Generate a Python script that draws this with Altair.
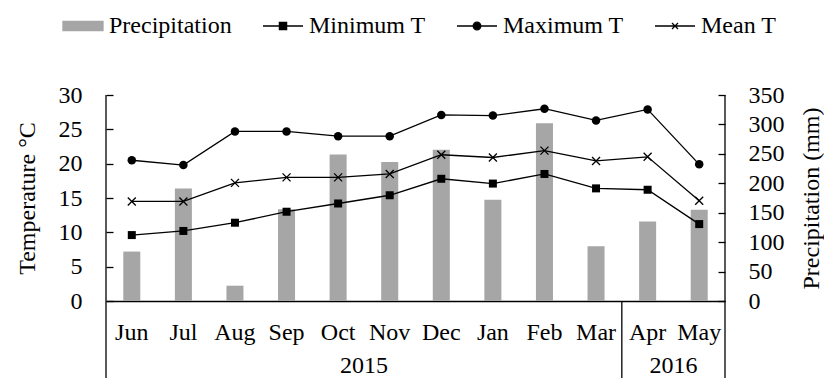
import altair as alt
import pandas as pd

# ---- data ----
months = ["Jun", "Jul", "Aug", "Sep", "Oct", "Nov", "Dec", "Jan", "Feb", "Mar", "Apr", "May"]
precip = [84, 191, 26, 156, 249, 236, 257, 172, 302, 93, 135, 155]
min_t = [9.6, 10.2, 11.4, 13.0, 14.2, 15.4, 17.8, 17.1, 18.5, 16.4, 16.2, 11.2]
max_t = [20.5, 19.8, 24.7, 24.7, 24.0, 24.0, 27.1, 27.0, 28.0, 26.3, 27.9, 19.9]
mean_t = [14.5, 14.5, 17.2, 18.0, 18.0, 18.5, 21.3, 20.9, 21.9, 20.4, 21.0, 14.6]
series_names = ["Precipitation", "Minimum T", "Maximum T", "Mean T"]
years = ["2015", "2016"]
year_start_month = ["Jun", "Apr"]
year_label_month = ["Nov", "May"]   # band whose left edge is the centre of the year span

FONT = "'Times New Roman', 'Liberation Serif', 'DejaVu Serif', serif"
LW = 1.3

bars_df = pd.DataFrame({"month": months, "precip": precip})
temp_df = pd.concat([
    pd.DataFrame({"month": months, "value": vals, "series": name})
    for name, vals in zip(series_names[1:], [min_t, max_t, mean_t])
], ignore_index=True)
legend_df = pd.DataFrame({"series": series_names})
year_df = pd.DataFrame({"month": year_label_month, "label": years})

x_axis = alt.Axis(title=None, domain=True, domainColor="black", domainWidth=LW,
                  ticks=False, tickSize=0, labelPadding=31, labelBaseline="middle",
                  labelAngle=0, labelFont=FONT, labelFontSize=24, labelColor="black", grid=False)
x_scale = alt.Scale(domain=months, paddingInner=0, paddingOuter=0)


def X(**kw):
    return alt.X("month:N", sort=months, scale=x_scale, axis=x_axis, **kw)


bars = alt.Chart(bars_df).mark_bar(color="#a6a6a6", width={"band": 0.33}).encode(
    x=X(),
    y=alt.Y("precip:Q", scale=alt.Scale(domain=[0, 350], nice=False),
            axis=alt.Axis(orient="right", values=list(range(0, 351, 50)), offset=-7,
                          tickSize=7, tickColor="black", tickWidth=LW, domain=False,
                          grid=False, labelPadding=23, labelFont=FONT, labelFontSize=24,
                          labelColor="black",
                          title="Precipitation (mm)", titleFont=FONT, titleFontSize=24,
                          titleFontWeight="normal",
                          titleColor="black", titleAngle=270, titleX=93, titleY=103,
                          titleAlign="center", titleBaseline="middle")),
)

y_temp = alt.Y("value:Q", scale=alt.Scale(domain=[0, 30], nice=False),
               axis=alt.Axis(orient="left", values=list(range(0, 31, 5)), offset=-7,
                             tickSize=7, tickColor="black", tickWidth=LW, domain=False,
                             grid=False, labelPadding=24, labelFont=FONT, labelFontSize=24,
                             labelColor="black",
                             title="Temperature °C", titleFont=FONT, titleFontSize=24,
                             titleFontWeight="normal",
                             titleColor="black", titleAngle=270, titleX=-86, titleY=103,
                             titleAlign="center", titleBaseline="middle"))

lines = alt.Chart(temp_df).mark_line(color="black", strokeWidth=LW).encode(
    x=X(), y=y_temp, detail="series:N")

pts_min = alt.Chart(temp_df).transform_filter(alt.datum.series == "Minimum T").mark_point(
    shape="square", filled=True, size=64, color="black", opacity=1).encode(x=X(), y=y_temp)
pts_max = alt.Chart(temp_df).transform_filter(alt.datum.series == "Maximum T").mark_point(
    shape="circle", filled=True, size=72, color="black", opacity=1).encode(x=X(), y=y_temp)
pts_mean = alt.Chart(temp_df).transform_filter(alt.datum.series == "Mean T").mark_point(
    shape="M-1,-1L1,1M-1,1L1,-1", filled=False, size=64, color="black", strokeWidth=LW,
    opacity=1).encode(x=X(), y=y_temp)

# vertical frame lines
rule_df_left = pd.DataFrame({"month": [months[0]]})
rule_df_sep = pd.DataFrame({"month": [year_start_month[1]]})
rule_df_right = pd.DataFrame({"month": [months[-1]]})
rule_left = alt.Chart(rule_df_left).mark_rule(color="black", strokeWidth=LW).encode(
    x=X(bandPosition=0), y=alt.value(0), y2=alt.value(290))
rule_sep = alt.Chart(rule_df_sep).mark_rule(color="black", strokeWidth=LW).encode(
    x=X(bandPosition=0), y=alt.value(206), y2=alt.value(290))
rule_right = alt.Chart(rule_df_right).mark_rule(color="black", strokeWidth=LW).encode(
    x=X(bandPosition=1), y=alt.value(0), y2=alt.value(290))

year_text = alt.Chart(year_df).mark_text(font=FONT, fontSize=24, color="black",
                                         baseline="middle", align="center").encode(
    x=X(bandPosition=0), y=alt.value(271), text="label:N")

# legend
legend_paths = [
    "M-1,-0.23H1V0.23H-1Z",
    "M-1,0H1M-0.18,-0.18H0.18V0.18H-0.18Z",
    "M-1,0H1M0.19,0A0.19,0.19,0,1,1,-0.19,0A0.19,0.19,0,1,1,0.19,0Z",
    "M-1,0H1M-0.15,-0.15L0.15,0.15M-0.15,0.15L0.15,-0.15",
]
legend_colors = ["#a6a6a6", "black", "black", "black"]
leg = alt.Legend(title=None, orient="none", legendX=-44, legendY=-90, direction="horizontal",
                 symbolSize=1600, symbolStrokeWidth=LW, labelFont=FONT, labelFontSize=24,
                 labelColor="black", labelOffset=5, columnPadding=28, padding=0,
                 symbolOpacity=1)
legend_layer = alt.Chart(legend_df).transform_filter("false").mark_point(filled=True).encode(
    shape=alt.Shape("series:N", scale=alt.Scale(domain=series_names, range=legend_paths), legend=leg),
    fill=alt.Fill("series:N", scale=alt.Scale(domain=series_names, range=legend_colors), legend=leg),
    stroke=alt.Stroke("series:N", scale=alt.Scale(domain=series_names, range=legend_colors), legend=leg),
)

inner = alt.layer(lines, pts_min, pts_max, pts_mean, rule_left, rule_sep, rule_right,
                  year_text, legend_layer)

chart = alt.layer(bars, inner).resolve_scale(y="independent").properties(
    width=619, height=206,
    autosize=alt.AutoSizeParams(type="none"),
    padding={"left": 98, "top": 87, "right": 99, "bottom": 77},
).configure(font=FONT).configure_axis(labelFont=FONT, titleFont=FONT).configure_legend(
    labelFont=FONT).configure_text(font=FONT).configure_view(stroke=None)

chart.save("out.html", embed_options={"renderer": "svg", "actions": False})
